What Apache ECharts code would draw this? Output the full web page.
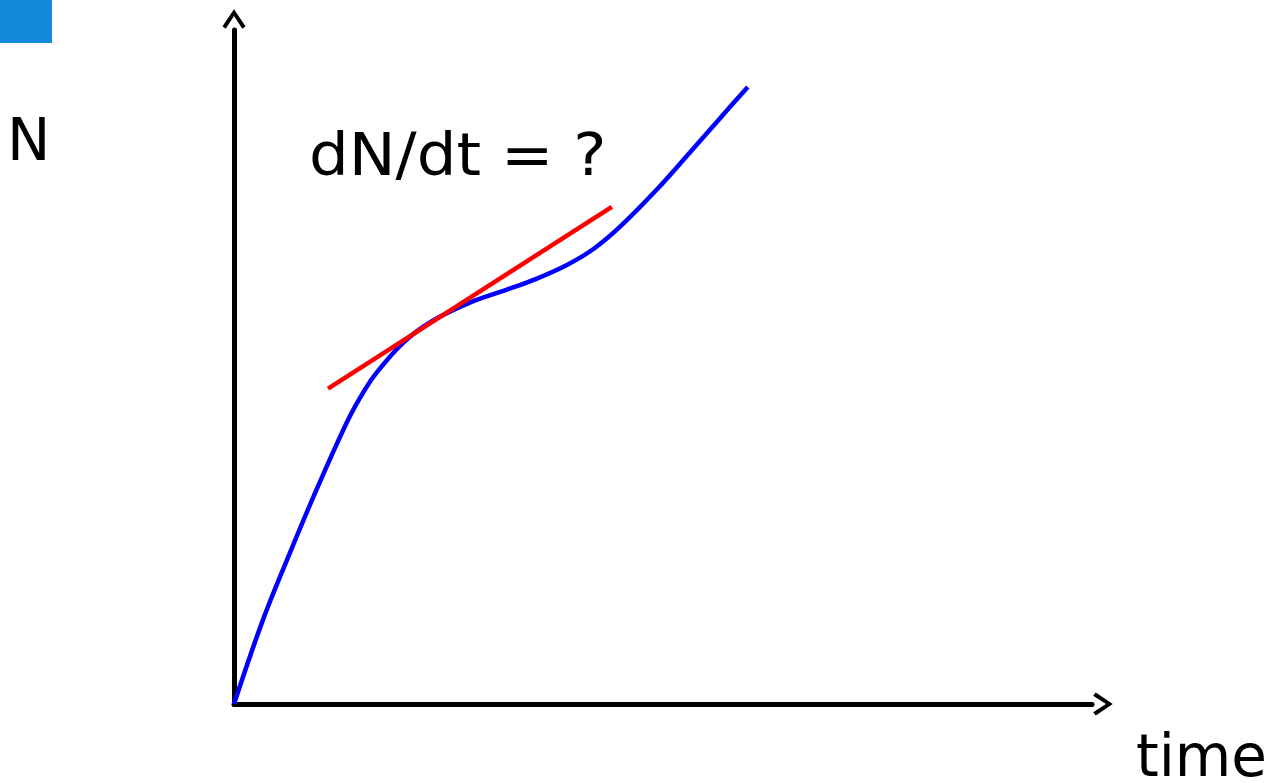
<!DOCTYPE html>
<html>
<head>
<meta charset="utf-8">
<script src="https://cdn.jsdelivr.net/npm/echarts@6/dist/echarts.min.js"></script>
<style>
  html, body { margin: 0; padding: 0; background: #fff; }
  #chart { width: 1270px; height: 783px; }
</style>
</head>
<body>
<div id="chart"></div>
<script>
// blue curve N(t)
const curveT = [0, 0.56, 1.08, 1.62, 2.21, 2.53, 2.77, 3.27, 3.79, 4.56, 5.28, 5.86, 6.44, 6.94, 7.47, 8.18, 8.82, 9.40, 9.94];
const curveN = [0, 1.36, 2.44, 3.51, 4.60, 5.08, 5.37, 5.84, 6.17, 6.49, 6.70, 6.88, 7.10, 7.35, 7.72, 8.32, 8.92, 9.47, 9.98];
// red tangent line end points
const tangentT = [1.82, 7.31];
const tangentN = [5.10, 8.04];

const axisMaxT = 16.6;
const axisMaxN = 10.9;

const FONT = '"DejaVu Sans", sans-serif';
// open chevron used as the arrow head on both axes
const chevron = 'path://M0,17 L11.5,0 L23,17 L19.8,19.6 L11.5,6.8 L3.2,19.6 Z';

const chart = echarts.init(document.getElementById('chart'));

function axisStyle(max) {
  return {
    type: 'value',
    min: 0,
    max: max,
    axisLine: {
      show: true,
      symbol: ['none', chevron],
      symbolSize: [23, 21],
      symbolOffset: [0, 11],
      lineStyle: { color: '#000', width: 5 }
    },
    axisTick: { show: false },
    axisLabel: { show: false },
    splitLine: { show: false }
  };
}

chart.setOption({
  animation: false,
  grid: { left: 234, right: 178, top: 30, bottom: 79 },
  xAxis: axisStyle(axisMaxT),
  yAxis: axisStyle(axisMaxN),
  graphic: [
    { type: 'rect', left: 0, top: 0, shape: { width: 52, height: 43 }, style: { fill: '#128ad9' } },
    { type: 'text', x: 7, y: 116, style: { text: 'N', font: '58px ' + FONT, fill: '#000' } },
    { type: 'text', x: 309, y: 131, scaleX: 1.08, style: { text: 'dN/dt = ?', font: '58px ' + FONT, fill: '#000' } },
    { type: 'text', x: 1136, y: 732, style: { text: 'time', font: '58px ' + FONT, fill: '#000' } }
  ],
  series: [
    {
      type: 'line',
      data: curveT.map((t, i) => [t, curveN[i]]),
      smooth: 0.35,
      symbol: 'none',
      lineStyle: { color: '#0000ff', width: 4.5 },
      z: 3
    },
    {
      type: 'line',
      data: tangentT.map((t, i) => [t, tangentN[i]]),
      symbol: 'none',
      lineStyle: { color: '#ff0000', width: 4.5 },
      z: 4
    }
  ]
});
</script>
</body>
</html>
